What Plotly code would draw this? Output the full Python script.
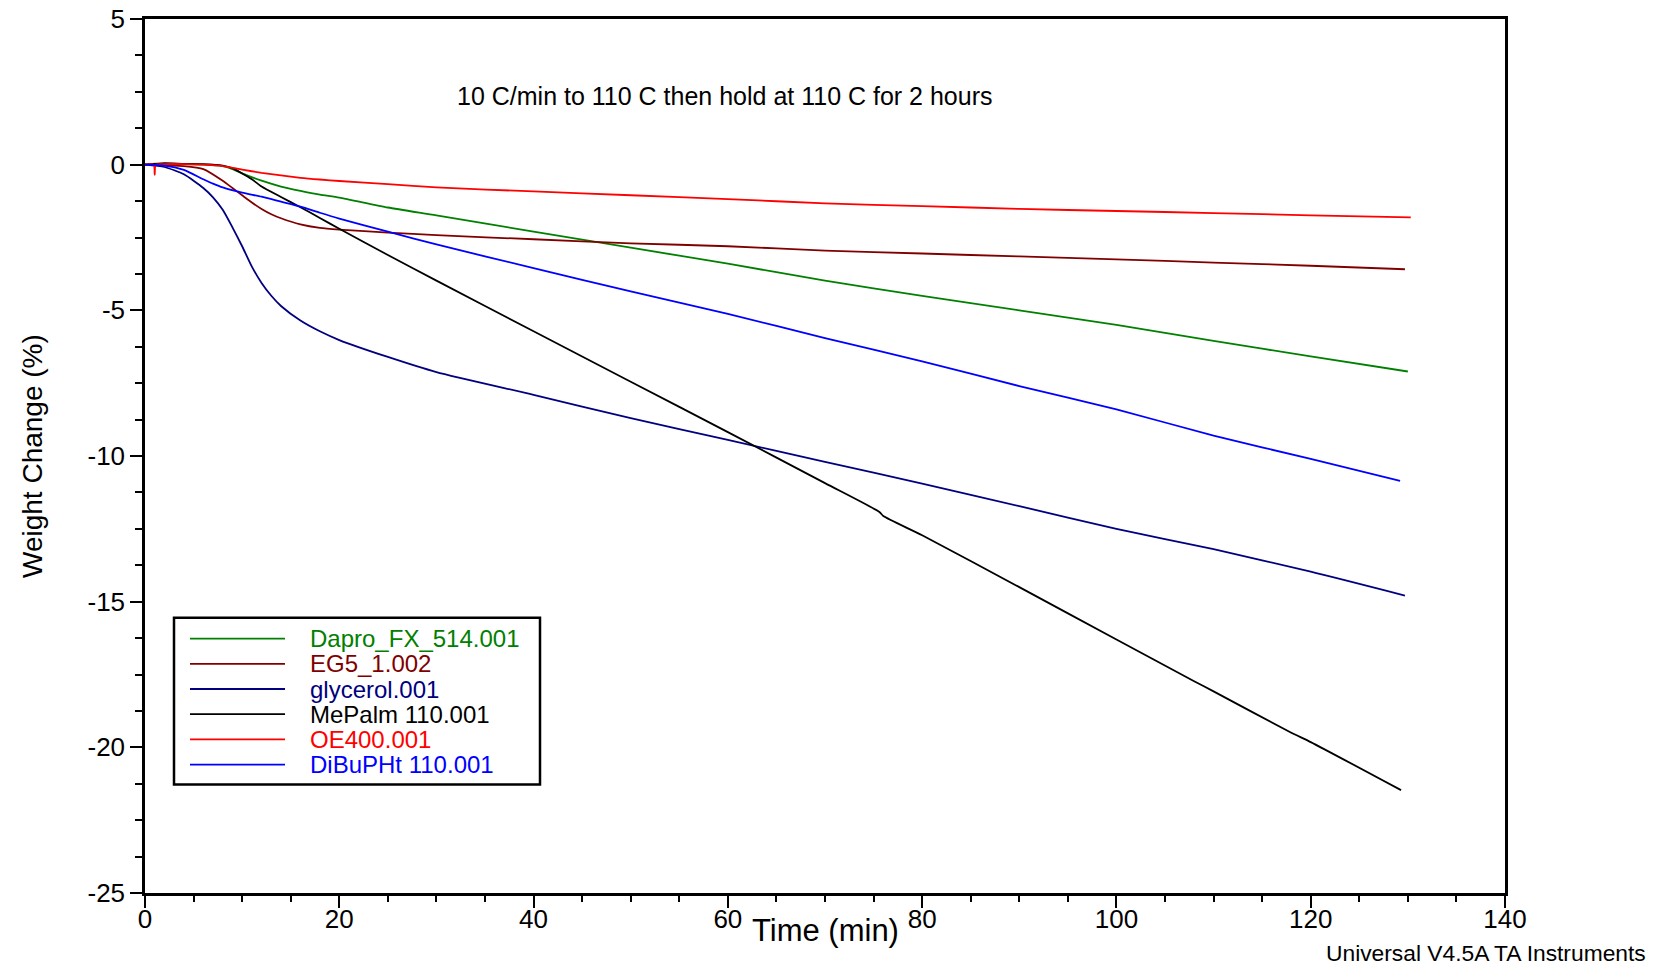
import plotly.graph_objects as go

# ---------------- data ----------------
t_dapro = [0, 2, 4, 6, 8, 9, 10, 12, 14, 16, 18, 20, 25, 30, 40, 50, 60, 70, 80, 90, 100, 110, 120, 130]
w_dapro = [0, 0.03, 0.02, 0.0, -0.05, -0.15, -0.3, -0.55, -0.75, -0.9, -1.03, -1.13, -1.47, -1.74,
           -2.3, -2.85, -3.4, -3.98, -4.5, -5.0, -5.5, -6.05, -6.58, -7.10]

t_eg5 = [0, 2, 4, 6, 8, 9, 10, 11, 12, 13, 14, 16, 18, 20, 25, 30, 40, 50, 60, 70, 80, 90, 100, 110, 120, 129.7]
w_eg5 = [0, -0.02, -0.05, -0.15, -0.55, -0.8, -1.05, -1.3, -1.52, -1.7, -1.84, -2.05, -2.17, -2.23,
         -2.33, -2.42, -2.56, -2.7, -2.8, -2.95, -3.05, -3.15, -3.25, -3.36, -3.47, -3.59]

t_gly = [0, 2, 4, 6, 7, 8, 9, 10, 11, 12, 13, 14, 16, 18, 20, 25, 30, 40, 50, 60, 70, 80, 90, 100, 110, 120, 129.7]
w_gly = [0, -0.08, -0.33, -0.8, -1.12, -1.55, -2.15, -2.8, -3.5, -4.06, -4.5, -4.85, -5.35, -5.72, -6.02,
         -6.6, -7.12, -7.9, -8.7, -9.45, -10.2, -10.95, -11.72, -12.5, -13.2, -13.97, -14.79]

t_mep = [0, 2, 4, 6, 8, 9, 10, 11, 12, 14, 16, 18, 20, 25, 30, 40, 50, 60, 70, 75.6, 76.0, 80, 90, 100, 108, 110, 118, 120, 129.3]
w_mep = [0, 0.05, 0.03, 0.02, -0.03, -0.12, -0.3, -0.5, -0.75, -1.11, -1.46, -1.83, -2.2, -3.1, -3.98,
         -5.72, -7.45, -9.18, -10.93, -11.92, -12.06, -12.72, -14.5, -16.3, -17.73, -18.08, -19.5, -19.82, -21.47]

t_oe = [0, 0.9, 1.0, 1.1, 2, 4, 6, 8, 10, 12, 14, 16, 18, 20, 25, 30, 40, 50, 60, 70, 80, 90, 100, 110, 120, 130.3]
w_oe = [0, 0, -0.35, 0, 0.02, 0.02, 0.0, -0.05, -0.17, -0.28, -0.37, -0.45, -0.51, -0.56, -0.67, -0.78,
        -0.92, -1.05, -1.18, -1.33, -1.42, -1.52, -1.59, -1.66, -1.74, -1.81]

t_dib = [0, 2, 4, 6, 7, 8, 10, 12, 14, 16, 18, 20, 25, 30, 40, 50, 60, 70, 80, 90, 100, 110, 120, 129.2]
w_dib = [0, -0.03, -0.18, -0.5, -0.65, -0.78, -0.96, -1.1, -1.27, -1.44, -1.65, -1.85, -2.3, -2.74,
         -3.55, -4.35, -5.12, -5.95, -6.75, -7.6, -8.4, -9.3, -10.1, -10.85]

names = ["Dapro_FX_514.001", "EG5_1.002", "glycerol.001", "MePalm 110.001", "OE400.001", "DiBuPHt 110.001"]
colors = ["#008000", "#800000", "#000080", "#000000", "#ff0000", "#0000ff"]
series_t = [t_dapro, t_eg5, t_gly, t_mep, t_oe, t_dib]
series_w = [w_dapro, w_eg5, w_gly, w_mep, w_oe, w_dib]

x_ticks = [0, 20, 40, 60, 80, 100, 120, 140]
x_ticktext = ["0", "20", "40", "60", "80", "100", "120", "140"]
y_ticks = [5, 0, -5, -10, -15, -20, -25]
y_ticktext = ["5", "0", "-5", "-10", "-15", "-20", "-25"]

# ---------------- figure ----------------
OFF = 0                     # page body margin is removed by the post script below
W, H = 1656 - 2 * OFF, 977 - 2 * OFF
L, T = 145 - OFF, 19 - OFF
R = W - (1505 - OFF)
B = H - (893.5 - OFF)
PW, PH = W - L - R, H - T - B
FONT = "Arial, Liberation Sans, sans-serif"


def px(xp):
    """page x pixel -> paper fraction"""
    return (xp - OFF - L) / PW


def py(yp):
    """page y pixel -> paper fraction"""
    return (H - B - (yp - OFF)) / PH


fig = go.Figure()
for tt, ww, nm, col in zip(series_t, series_w, names, colors):
    fig.add_trace(go.Scatter(x=tt, y=ww, mode="lines", name=nm,
                             line=dict(color=col, width=1.8, shape="spline", smoothing=0.6),
                             showlegend=False))

axis_common = dict(showgrid=False, zeroline=False, showline=True, linecolor="black", linewidth=2.5,
                   mirror=True, ticks="outside", ticklen=12, tickwidth=2, tickcolor="black",
                   automargin=False, ticklabeloverflow="allow",
                   tickfont=dict(family=FONT, size=26, color="black"))

fig.update_xaxes(range=[0, 140], tickvals=x_ticks, ticktext=x_ticktext, ticklabelstandoff=-11,
                 minor=dict(dtick=5, ticks="outside", ticklen=6, tickwidth=1.5, tickcolor="black"),
                 **axis_common)
fig.update_yaxes(range=[-25, 5], tickvals=y_ticks, ticktext=y_ticktext,
                 minor=dict(dtick=1.25, ticks="outside", ticklen=7, tickwidth=1.5, tickcolor="black"),
                 **axis_common)

annotations = [
    dict(text="Time (min)", x=0.5, y=py(931), xref="paper", yref="paper", showarrow=False,
         font=dict(family=FONT, size=31, color="black"), xanchor="center", yanchor="middle"),
    dict(text="Weight Change (%)", x=px(32), y=0.5, xref="paper", yref="paper", showarrow=False,
         textangle=-90, font=dict(family=FONT, size=28, color="black"), xanchor="center", yanchor="middle"),
    dict(text="10 C/min to 110 C then hold at 110 C for 2 hours", x=px(725), y=py(96),
         xref="paper", yref="paper", showarrow=False,
         font=dict(family=FONT, size=25, color="black"), xanchor="center", yanchor="middle"),
    dict(text="Universal V4.5A TA Instruments", x=px(1648), y=py(954), xref="paper", yref="paper",
         showarrow=False, font=dict(family=FONT, size=22.8, color="black"), xanchor="right", yanchor="middle"),
]

shapes = [dict(type="rect", xref="paper", yref="paper", x0=px(174), x1=px(540), y0=py(785), y1=py(618),
               line=dict(color="black", width=2.5), fillcolor="white", layer="above")]

row0, dy = 639, 25.2
for i, (nm, col) in enumerate(zip(names, colors)):
    yy = py(row0 + i * dy)
    shapes.append(dict(type="line", xref="paper", yref="paper", x0=px(190), x1=px(285), y0=yy, y1=yy,
                       line=dict(color=col, width=1.8), layer="above"))
    annotations.append(dict(text=nm, x=px(308), y=yy, xref="paper", yref="paper", showarrow=False,
                            font=dict(family=FONT, size=24, color=col), xanchor="left", yanchor="middle"))

fig.update_layout(width=W, height=H, margin=dict(l=L, r=R, t=T, b=B, autoexpand=False),
                  paper_bgcolor="white", plot_bgcolor="white",
                  annotations=annotations, shapes=shapes, showlegend=False)

fig.write_html("out.html", config={"displayModeBar": False},
               post_script="document.body.style.margin='0';document.body.style.overflow='hidden';")
